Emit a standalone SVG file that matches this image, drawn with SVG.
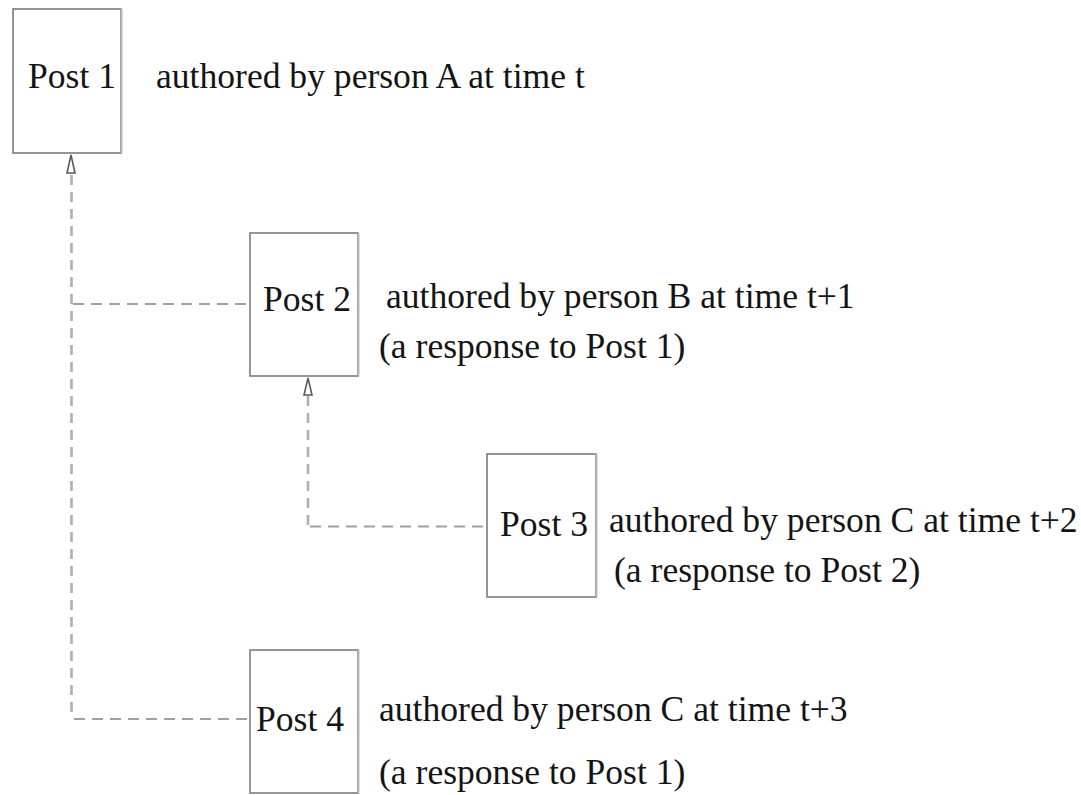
<svg xmlns="http://www.w3.org/2000/svg" width="1081" height="795" viewBox="0 0 1081 795">
  <style>
    .box { fill: #ffffff; stroke: #7c7c7c; stroke-width: 1.6; }
    .edge { stroke: #b8b8b8; stroke-width: 2; }
    .label { font-family: "Liberation Serif", "Times New Roman", serif; font-size: 35.6px; fill: #141414; }
    .dash-v { fill: none; stroke: #b0b0b0; stroke-width: 2.6; stroke-dasharray: 10 7; }
    .dash-h { fill: none; stroke: #a0a0a0; stroke-width: 2; stroke-dasharray: 11 7; }
    .head { fill: #ffffff; stroke: #5a5a5a; stroke-width: 1.6; }
  </style>
  <rect width="1081" height="795" fill="#ffffff"/>

  <!-- reply connectors -->
  <g id="connectors">
    <!-- Post 2 and Post 4 reply to Post 1 -->
    <line class="dash-v" x1="71.5" y1="175" x2="71.5" y2="719"/>
    <line class="dash-h" x1="73" y1="304" x2="250" y2="304"/>
    <line class="dash-h" x1="74" y1="719" x2="250" y2="719"/>
    <polygon class="head" points="71,155 67,173 75,173"/>
    <!-- Post 3 replies to Post 2 -->
    <line class="dash-v" x1="308" y1="396" x2="308" y2="526"/>
    <line class="dash-h" x1="310" y1="526.5" x2="487" y2="526.5"/>
    <polygon class="head" points="308,378 304,395 312,395"/>
  </g>

  <g id="post1">
    <rect class="box" x="13" y="9" width="108" height="144"/>
    <line class="edge" x1="121.5" y1="9" x2="121.5" y2="153"/>
    <text class="label" x="28" y="88">Post 1</text>
    <text class="label" x="156" y="88">authored by person A at time t</text>
  </g>

  <g id="post2">
    <rect class="box" x="250" y="233" width="108" height="143"/>
    <line class="edge" x1="358.5" y1="233" x2="358.5" y2="376"/>
    <text class="label" x="263" y="311">Post 2</text>
    <text class="label" x="386" y="308">authored by person B at time t+1</text>
    <text class="label" x="379" y="358">(a response to Post 1)</text>
  </g>

  <g id="post3">
    <rect class="box" x="487" y="454" width="109" height="143"/>
    <line class="edge" x1="596.5" y1="454" x2="596.5" y2="597"/>
    <text class="label" x="500" y="536">Post 3</text>
    <text class="label" x="609" y="532">authored by person C at time t+2</text>
    <text class="label" x="614" y="582">(a response to Post 2)</text>
  </g>

  <g id="post4">
    <rect class="box" x="250" y="650" width="108" height="143"/>
    <line class="edge" x1="358.5" y1="650" x2="358.5" y2="793"/>
    <text class="label" x="256" y="731">Post 4</text>
    <text class="label" x="379" y="721">authored by person C at time t+3</text>
    <text class="label" x="379" y="784">(a response to Post 1)</text>
  </g>
</svg>
